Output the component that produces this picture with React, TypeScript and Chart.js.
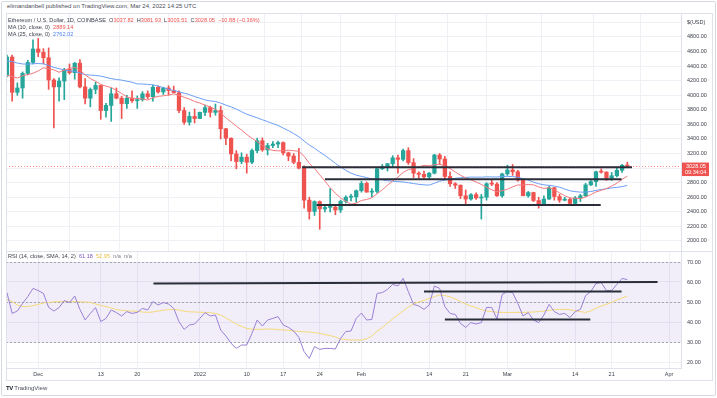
import React, { useEffect, useRef } from 'react';
import { Chart, registerables } from 'chart.js';

Chart.register(...registerables);

// Day offset (days from 1 Jan 2022) of the first candle: 25 Nov 2021
const FIRST_DAY = -37;

const opens = [
  4270, 4525, 4040, 4100, 4300, 4450, 4635, 4590, 4515, 4210,
  4115, 4195, 4355, 4310, 4440, 4115, 3960, 4080, 4135, 3790,
  3860, 4020, 3960, 3885, 3960, 3925, 3940, 4020, 3980, 4110,
  4045, 4100, 4065, 4035, 3790, 3630, 3710, 3680, 3765, 3830,
  3765, 3790, 3540, 3410, 3195, 3090, 3150, 3080, 3240, 3375,
  3250, 3310, 3330, 3350, 3210, 3165, 3080, 3000, 2560, 2405,
  2540, 2440, 2460, 2465, 2425, 2545, 2600, 2605, 2690, 2790,
  2670, 2680, 2990, 3020, 3060, 3140, 3120, 3240, 3075, 2930,
  2915, 2880, 2930, 3180, 3125, 2885, 2785, 2765, 2620, 2575,
  2635, 2590, 2600, 2785, 2780, 2620, 2920, 2975, 2950, 2835,
  2620, 2665, 2555, 2495, 2575, 2730, 2610, 2560, 2570, 2515,
  2590, 2620, 2770, 2815, 2950, 2945, 2860, 2895, 2970, 3037.82,
];

const highs = [
  4550, 4550, 4170, 4320, 4480, 4760, 4780, 4640, 4650, 4230,
  4240, 4370, 4430, 4450, 4490, 4230, 4100, 4180, 4140, 3890,
  4100, 4100, 3985, 4000, 4060, 3990, 4050, 4060, 4140, 4130,
  4110, 4130, 4125, 4060, 3830, 3770, 3810, 3770, 3865, 3850,
  3880, 3850, 3545, 3415, 3240, 3210, 3190, 3260, 3410, 3415,
  3340, 3365, 3370, 3360, 3220, 3200, 3270, 3030, 2600, 2550,
  2550, 2500, 2720, 2500, 2560, 2620, 2640, 2700, 2820, 2810,
  2720, 3000, 3050, 3065, 3170, 3180, 3260, 3280, 3130, 2950,
  2960, 2940, 3190, 3200, 3160, 2950, 2800, 2770, 2700, 2650,
  2660, 2640, 2800, 2840, 2800, 2930, 3040, 3050, 2970, 2840,
  2680, 2670, 2600, 2620, 2750, 2735, 2640, 2600, 2590, 2610,
  2640, 2790, 2830, 2960, 2990, 2950, 2940, 3010, 3050, 3081.93,
];

const lows = [
  4250, 3920, 4000, 3960, 4280, 4430, 4530, 4430, 4080, 3550,
  3920, 3940, 4290, 4220, 4100, 3880, 3840, 4020, 3670, 3700,
  3640, 3950, 3680, 3820, 3900, 3820, 3920, 3950, 3920, 4030,
  4010, 4000, 4030, 3760, 3600, 3590, 3620, 3680, 3720, 3700,
  3725, 3400, 3320, 3100, 2990, 3060, 2930, 3060, 3210, 3230,
  3180, 3280, 3280, 3180, 3100, 3060, 2990, 2450, 2300, 2350,
  2160, 2400, 2400, 2360, 2390, 2520, 2550, 2530, 2670, 2670,
  2600, 2660, 2980, 2960, 3020, 2930, 3100, 3050, 2870, 2860,
  2860, 2840, 2920, 3050, 2850, 2750, 2720, 2580, 2500, 2560,
  2570, 2300, 2560, 2760, 2610, 2600, 2900, 2900, 2820, 2620,
  2600, 2540, 2450, 2490, 2570, 2560, 2530, 2550, 2510, 2500,
  2540, 2610, 2760, 2750, 2930, 2830, 2830, 2880, 2940, 3003.51,
];

const closes = [
  4525, 4040, 4100, 4300, 4450, 4635, 4590, 4515, 4210, 4115,
  4195, 4355, 4310, 4440, 4115, 3960, 4080, 4135, 3790, 3860,
  4020, 3960, 3885, 3960, 3925, 3940, 4020, 3980, 4110, 4045,
  4100, 4065, 4035, 3790, 3630, 3710, 3680, 3765, 3830, 3765,
  3790, 3540, 3410, 3195, 3090, 3150, 3080, 3240, 3375, 3250,
  3310, 3330, 3350, 3210, 3165, 3080, 3000, 2560, 2405, 2540,
  2440, 2460, 2465, 2425, 2545, 2600, 2605, 2690, 2790, 2670,
  2680, 2990, 3020, 3060, 3140, 3120, 3240, 3075, 2930, 2915,
  2880, 2930, 3180, 3125, 2885, 2785, 2765, 2620, 2575, 2635,
  2590, 2600, 2785, 2780, 2620, 2920, 2975, 2950, 2835, 2620,
  2665, 2555, 2495, 2575, 2730, 2610, 2560, 2570, 2515, 2590,
  2620, 2770, 2815, 2950, 2945, 2860, 2895, 2970, 3038, 3028.05,
];

const ma10 = [
  4272.5, 4255.5, 4236.5, 4267.5, 4282.5, 4302, 4334, 4376.5, 4363.5, 4348,
  4315, 4346.5, 4367.5, 4381.5, 4348, 4280.5, 4229.5, 4191.5, 4149.5, 4124,
  4106.5, 4067, 4024.5, 3976.5, 3957.5, 3955.5, 3949.5, 3934, 3966, 3984.5,
  3992.5, 4003, 4018, 4001, 3971.5, 3948.5, 3914.5, 3893, 3865, 3837,
  3806, 3753.5, 3691, 3631.5, 3577.5, 3521.5, 3461.5, 3409, 3363.5, 3312,
  3264, 3243, 3237, 3238.5, 3246, 3239, 3231, 3163, 3066, 2995,
  2908, 2821, 2732.5, 2654, 2592, 2544, 2504.5, 2517.5, 2556, 2569,
  2593, 2646, 2701.5, 2765, 2824.5, 2876.5, 2940, 2978.5, 2992.5, 3017,
  3037, 3031, 3047, 3053.5, 3028, 2994.5, 2947, 2901.5, 2866, 2838,
  2809, 2776, 2736.5, 2702, 2675.5, 2689, 2710, 2743, 2769, 2767.5,
  2775, 2770.5, 2741.5, 2721, 2732, 2701, 2659.5, 2621.5, 2589.5, 2586.5,
  2582, 2603.5, 2635.5, 2673, 2694.5, 2719.5, 2753, 2793, 2845.3, 2889.14,
];

const ma25 = [
  4472.6, 4461.4, 4441.8, 4429.4, 4426.2, 4432.4, 4435.2, 4431, 4407, 4382.2,
  4364.4, 4349.8, 4335.6, 4327.2, 4306.6, 4282.2, 4277, 4270.8, 4262.8, 4245.2,
  4228.4, 4216, 4207.8, 4192.6, 4178.8, 4155.4, 4154.6, 4149.8, 4142.2, 4126,
  4104.6, 4083.6, 4064.4, 4047.6, 4028.2, 4008.8, 3981.8, 3960, 3935.6, 3921.6,
  3914.8, 3893.2, 3864.2, 3840.4, 3809.6, 3774.8, 3739.6, 3713.8, 3690.4, 3663.4,
  3638.2, 3610.6, 3585.4, 3549.4, 3514.2, 3473.4, 3430.8, 3371.8, 3316.4, 3272.8,
  3222, 3173.2, 3121.2, 3065, 3016.2, 2968.6, 2931.2, 2902.4, 2886.2, 2869.4,
  2850.6, 2847, 2838.2, 2825.6, 2821.2, 2813.6, 2810, 2799, 2787.8, 2777.8,
  2769.8, 2767, 2791.8, 2820.6, 2834.4, 2848.2, 2860.4, 2866.6, 2872.6, 2876.2,
  2875.8, 2875.6, 2879.4, 2879, 2877, 2886.6, 2886, 2883.2, 2874.2, 2853.4,
  2835.2, 2807.8, 2784.6, 2770.4, 2763, 2752.2, 2737.4, 2713, 2688.6, 2676.8,
  2670.2, 2670.4, 2678.2, 2693.2, 2705.6, 2716.4, 2728.2, 2735.6, 2745.9, 2762.02,
];

const rsi = [
  54.7, 44.3, 45.5, 49.3, 52.7, 56.8, 55.7, 54.3, 47.3, 45.5,
  47.2, 50.7, 49.7, 53, 46.3, 41, 44.3, 47.2, 40.2, 41.8,
  46, 44.7, 43, 45.2, 44.3, 44.8, 46.8, 46, 50.2, 48.5,
  49.7, 49, 46.8, 40.2, 36.3, 38.5, 39, 41.8, 44.7, 43,
  43.5, 36, 33, 29.3, 26.8, 28.5, 28.5, 34.3, 41, 38,
  41, 41.8, 42.7, 38.5, 37.3, 35.5, 32.3, 25.2, 21.8, 27.7,
  26.3, 26.8, 26.8, 26.5, 31.8, 35.2, 35.5, 41.8, 44.5, 41,
  41.3, 54.3, 54.7, 56.3, 58.8, 58, 61.8, 55.2, 48.8, 48,
  46.3, 48.5, 58, 56.8, 47.7, 44.3, 43.8, 39.3, 37.3, 39.7,
  39, 39.7, 47.3, 47.3, 41.5, 53.8, 55.2, 54.7, 49.3, 43,
  44.7, 41, 39.7, 43.5, 48.8, 45.2, 43.8, 44.3, 42.2, 45.2,
  46.3, 53.2, 55.2, 59.3, 59.7, 55.7, 55.7, 58.8, 61.8, 61.18,
];

const rsiSma = [
  51.3, 50.2, 48.5, 47.8, 47.7, 48.2, 48.8, 49.5, 49.8, 50.1,
  50.2, 50.2, 50.2, 50.2, 50.1, 50, 49.8, 49, 48.3, 47.7,
  47, 46.2, 45.8, 45.6, 45.5, 45.3, 45, 44.8, 45, 45.5,
  45.9, 46.1, 46.3, 46, 45.4, 45.1, 45, 44.9, 44.8, 44.6,
  44.3, 43.5, 42, 40.5, 39, 37.8, 36.8, 36.4, 36.3, 36.4,
  36.5, 36.4, 36.2, 36, 35.8, 35.5, 35.3, 35.1, 35, 34.7,
  34.3, 33.7, 33.2, 32.5, 31.6, 31.2, 31, 31, 31, 31.6,
  33, 35.4, 37.2, 39.5, 41.6, 43.5, 45.5, 47.5, 49, 50,
  50.8, 51.8, 52.7, 53.5, 53.2, 52.6, 51.5, 50.2, 49, 48,
  47.2, 46.2, 45.5, 45.2, 44.9, 44.8, 44.8, 44.8, 44.8, 44.8,
  44.9, 45, 45.2, 45.5, 45.8, 46.1, 46.3, 46.3, 46.1, 45.7,
  45.2, 44.8, 45.5, 46.9, 48, 48.8, 49.9, 51, 52, 52.95,
];

// time axis ticks (days from 1 Jan 2022) and their labels
const tickDays = [-31, -19, -12, 0, 9, 16, 23, 31, 44, 51, 59, 72, 79, 90];
const tickLabels = ['Dec', '13', '20', '2022', '10', '17', '24', 'Feb', '14', '21', 'Mar', '14', '21', 'Apr'];

// hand-drawn horizontal lines on the price pane
const priceLineStartDay = [19.6, 24.0, 22.4];
const priceLineEndDay = [82.9, 80.9, 76.9];
const priceLineLevel = [3010, 2846, 2492];

// hand-drawn lines on the RSI pane
const rsiLineStartDay = [-8.9, 43.0, 47.0];
const rsiLineEndDay = [87.8, 80.9, 74.9];
const rsiLineStartValue = [59.3, 55.2, 41.3];
const rsiLineEndValue = [60.0, 55.2, 41.3];

const rsiBandLevels = [70, 50, 30];
const COUNTDOWN = '09:34:04';

const UP = '#26a69a';
const DOWN = '#ef5350';
const FONT = '"Liberation Sans", Arial, sans-serif';
const GRID = '#eef0f5';
const TEXT = '#3b3f4a';

const X_MIN = -37.18;
const X_MAX = 92.3;

function fitY(width: number) {
  return (scale: any) => {
    scale.width = width;
    scale.paddingTop = 0;
    scale.paddingBottom = 0;
  };
}

function setDayTicks(scale: any) {
  scale.ticks = tickDays.map((v) => ({ value: v }));
}

export default function App() {
  const priceRef = useRef<HTMLCanvasElement>(null);
  const rsiRef = useRef<HTMLCanvasElement>(null);

  useEffect(() => {
    const days = closes.map((_, i) => FIRST_DAY + i);
    const colors = closes.map((c, i) => (c >= opens[i] ? UP : DOWN));
    const lastPrice = closes[closes.length - 1];

    const priceDecor = {
      id: 'priceDecor',
      beforeDatasetsDraw(chart: any) {
        const { ctx, chartArea, scales } = chart;
        const y = Math.round(scales.y.getPixelForValue(lastPrice)) + 0.5;
        ctx.save();
        ctx.strokeStyle = 'rgba(239,83,80,0.6)';
        ctx.lineWidth = 1;
        ctx.setLineDash([1, 2]);
        ctx.beginPath();
        ctx.moveTo(chartArea.left, y);
        ctx.lineTo(chartArea.right, y);
        ctx.stroke();
        ctx.restore();
      },
      afterDraw(chart: any) {
        const { ctx, chartArea, scales } = chart;
        const y = scales.y.getPixelForValue(lastPrice);
        ctx.save();
        ctx.fillStyle = DOWN;
        ctx.fillRect(chartArea.right + 1, y - 3.5, 27, 13.5);
        ctx.fillStyle = '#ffffff';
        ctx.font = `5.5px ${FONT}`;
        ctx.textBaseline = 'middle';
        ctx.textAlign = 'left';
        ctx.fillText(lastPrice.toFixed(2), chartArea.right + 5, y + 0.3);
        ctx.fillText(COUNTDOWN, chartArea.right + 4, y + 6.6);
        ctx.restore();
      },
    };

    const rsiDecor = {
      id: 'rsiDecor',
      beforeDatasetsDraw(chart: any) {
        const { ctx, chartArea, scales } = chart;
        const top = scales.y.getPixelForValue(rsiBandLevels[0]);
        const bot = scales.y.getPixelForValue(rsiBandLevels[2]);
        ctx.save();
        ctx.fillStyle = 'rgba(126,87,194,0.1)';
        ctx.fillRect(chartArea.left, top, chartArea.right - chartArea.left, bot - top);
        ctx.strokeStyle = '#a3a6af';
        ctx.lineWidth = 1;
        ctx.setLineDash([2, 2]);
        rsiBandLevels.forEach((lv) => {
          const y = Math.round(scales.y.getPixelForValue(lv)) + 0.5;
          ctx.beginPath();
          ctx.moveTo(chartArea.left, y);
          ctx.lineTo(chartArea.right, y);
          ctx.stroke();
        });
        ctx.restore();
      },
    };

    const priceTrend = priceLineLevel.map((lv, k) => ({
      type: 'line' as const,
      data: [
        { x: priceLineStartDay[k], y: lv },
        { x: priceLineEndDay[k], y: lv },
      ],
      borderColor: '#2a2e39',
      borderWidth: 2,
      pointRadius: 0,
      order: 0,
    }));

    const rsiTrend = rsiLineStartValue.map((v, k) => ({
      type: 'line' as const,
      data: [
        { x: rsiLineStartDay[k], y: v },
        { x: rsiLineEndDay[k], y: rsiLineEndValue[k] },
      ],
      borderColor: '#2a2e39',
      borderWidth: 2,
      pointRadius: 0,
      order: 0,
    }));

    const c1 = new Chart(priceRef.current as HTMLCanvasElement, {
      type: 'bar',
      data: {
        datasets: [
          ...priceTrend,
          {
            type: 'line',
            data: days.map((d, i) => ({ x: d, y: ma10[i] })),
            borderColor: '#f4797d',
            borderWidth: 1,
            pointRadius: 0,
            order: 1,
          },
          {
            type: 'line',
            data: days.map((d, i) => ({ x: d, y: ma25[i] })),
            borderColor: '#6c9ef5',
            borderWidth: 1,
            pointRadius: 0,
            order: 1,
          },
          {
            type: 'bar',
            data: days.map((d, i) => ({ x: d, y: [Math.min(opens[i], closes[i]), Math.max(opens[i], closes[i])] })),
            backgroundColor: colors,
            barThickness: 3.6,
            minBarLength: 1,
            grouped: false,
            order: 2,
          },
          {
            type: 'bar',
            data: days.map((d, i) => ({ x: d, y: [lows[i], highs[i]] })),
            backgroundColor: colors,
            barThickness: 1,
            grouped: false,
            order: 3,
          },
        ] as any,
      },
      options: {
        animation: false,
        responsive: false,
        devicePixelRatio: 1,
        events: [],
        layout: { padding: 0, autoPadding: false } as any,
        plugins: { legend: { display: false }, tooltip: { enabled: false } },
        scales: {
          x: {
            type: 'linear',
            min: X_MIN,
            max: X_MAX,
            offset: false,
            afterBuildTicks: setDayTicks,
            afterFit: (s: any) => {
              s.height = 0;
              s.paddingLeft = 0;
              s.paddingRight = 0;
            },
            ticks: { display: false },
            grid: { color: GRID, drawTicks: false },
            border: { display: false },
          },
          y: {
            type: 'linear',
            position: 'right',
            min: 1862,
            max: 5129,
            afterFit: fitY(31),
            ticks: {
              stepSize: 200,
              includeBounds: false,
              padding: 6,
              color: TEXT,
              font: { family: FONT, size: 5.5 },
              callback: (v: any) => (v === 5000 ? '$(USD)' : Number(v).toFixed(2)),
            },
            grid: { color: GRID, drawTicks: false },
            border: { display: true, color: '#dfe2ea' },
          },
        },
      },
      plugins: [priceDecor],
    });

    const c2 = new Chart(rsiRef.current as HTMLCanvasElement, {
      type: 'line',
      data: {
        datasets: [
          ...rsiTrend,
          {
            data: days.map((d, i) => ({ x: d, y: rsi[i] })),
            borderColor: '#9a80d4',
            borderWidth: 1,
            pointRadius: 0,
            order: 1,
          },
          {
            data: days.map((d, i) => ({ x: d, y: rsiSma[i] })),
            borderColor: '#f5d978',
            borderWidth: 1,
            pointRadius: 0,
            order: 2,
          },
        ] as any,
      },
      options: {
        animation: false,
        responsive: false,
        devicePixelRatio: 1,
        events: [],
        layout: { padding: 0, autoPadding: false } as any,
        plugins: { legend: { display: false }, tooltip: { enabled: false } },
        scales: {
          x: {
            type: 'linear',
            min: X_MIN,
            max: X_MAX,
            offset: false,
            afterBuildTicks: setDayTicks,
            afterFit: (s: any) => {
              s.height = 12;
              s.paddingLeft = 0;
              s.paddingRight = 0;
            },
            ticks: {
              autoSkip: false,
              maxRotation: 0,
              padding: 3,
              color: TEXT,
              font: { family: FONT, size: 5.5 },
              callback: (_v: any, idx: number) => tickLabels[idx],
            },
            grid: { color: GRID, drawTicks: false },
            border: { display: true, color: '#dfe2ea' },
          },
          y: {
            type: 'linear',
            position: 'right',
            min: 17,
            max: 75.5,
            afterFit: fitY(31),
            ticks: {
              stepSize: 10,
              includeBounds: false,
              padding: 6,
              color: TEXT,
              font: { family: FONT, size: 5.5 },
              callback: (v: any) => Number(v).toFixed(2),
            },
            grid: { color: GRID, drawTicks: false },
            border: { display: true, color: '#dfe2ea' },
          },
        },
      },
      plugins: [rsiDecor],
    });

    return () => {
      c1.destroy();
      c2.destroy();
    };
  }, []);

  const legendStyle: React.CSSProperties = {
    position: 'absolute',
    left: 8,
    fontFamily: FONT,
    fontSize: 5.6,
    lineHeight: '7px',
    color: TEXT,
    whiteSpace: 'pre',
  };

  return (
    <div style={{ position: 'absolute', left: 0, top: 0, width: 717, height: 398, background: '#ffffff', overflow: 'hidden' }}>
      <div style={{ position: 'absolute', left: 1, top: 1, width: 713, height: 393, border: '1px solid #d6dae3', borderRadius: 2 }} />
      <div style={{ ...legendStyle, left: 7, top: 3, fontSize: 6, color: '#4a4e59' }}>
        elimandanbell published on TradingView.com, Mar 24, 2022 14:25 UTC
      </div>
      <canvas ref={priceRef} width={706} height={238} style={{ position: 'absolute', left: 6, top: 13, width: 706, height: 238 }} />
      <canvas ref={rsiRef} width={706} height={129} style={{ position: 'absolute', left: 6, top: 251, width: 706, height: 129 }} />
      <div style={{ position: 'absolute', left: 6, top: 251, width: 706, height: 1, background: '#dfe2ea' }} />
      <div style={{ position: 'absolute', left: 6, top: 13, width: 705, height: 366, border: '1px solid #dfe2ea' }} />
      <div style={{ ...legendStyle, top: 16.5 }}>
        {'Ethereum / U.S. Dollar, 1D, COINBASE  O'}
        <span style={{ color: DOWN }}>3037.82</span>
        {'  H'}
        <span style={{ color: DOWN }}>3081.93</span>
        {'  L'}
        <span style={{ color: DOWN }}>3003.51</span>
        {'  C'}
        <span style={{ color: DOWN }}>3028.05</span>
        {'  '}
        <span style={{ color: DOWN }}>−10.88 (−0.36%)</span>
      </div>
      <div style={{ ...legendStyle, top: 23.8 }}>
        {'MA (10, close, 0)  '}
        <span style={{ color: DOWN }}>2889.14</span>
      </div>
      <div style={{ ...legendStyle, top: 30.8 }}>
        {'MA (25, close, 0)  '}
        <span style={{ color: '#4f83f0' }}>2762.02</span>
      </div>
      <div style={{ ...legendStyle, top: 252.5 }}>
        {'RSI (14, close, SMA, 14, 2)  '}
        <span style={{ color: '#7e57c2' }}>61.18</span>
        {'  '}
        <span style={{ color: '#e8c349' }}>52.95</span>
        {'  '}
        <span style={{ color: '#787b86' }}>n/a</span>
        {'  '}
        <span style={{ color: '#787b86' }}>n/a</span>
      </div>
      <div style={{ position: 'absolute', left: 6, top: 384, fontFamily: FONT, fontSize: 6, lineHeight: '8px', color: '#4a4e59', whiteSpace: 'pre' }}>
        <span style={{ fontWeight: 700, color: '#131722', letterSpacing: -0.5 }}>TV</span>
        {' TradingView'}
      </div>
    </div>
  );
}
